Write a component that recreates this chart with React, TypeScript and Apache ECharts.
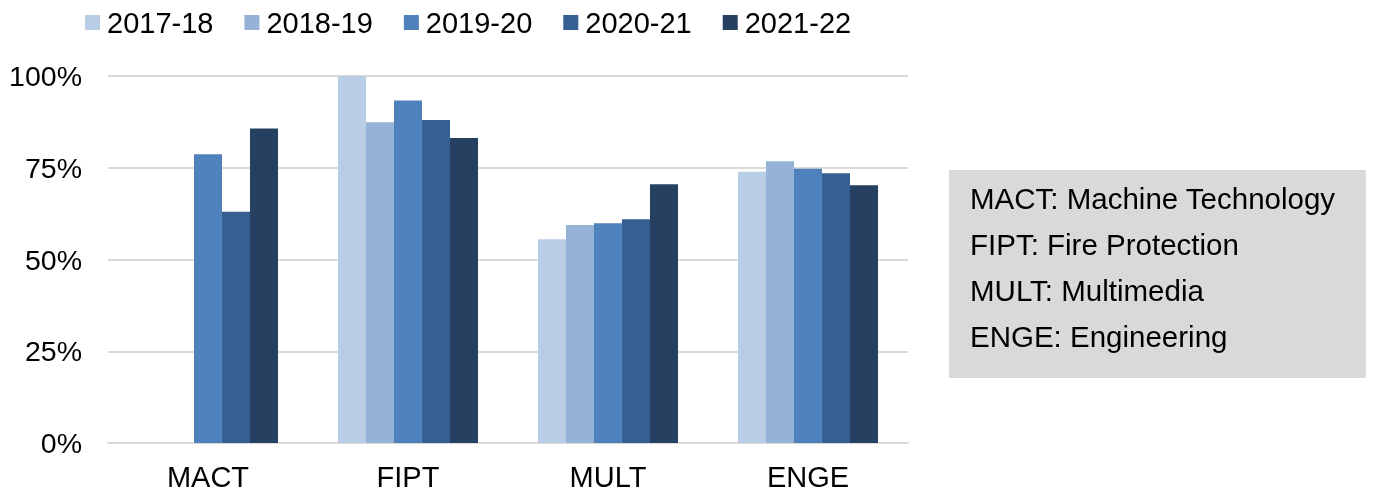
import React, { useEffect, useRef } from "react";
import * as echarts from "echarts";

const categories = ["MACT", "FIPT", "MULT", "ENGE"];
const seriesNames = ["2017-18", "2018-19", "2019-20", "2020-21", "2021-22"];
const v2017: (number | null)[] = [null, 1.0, 0.555, 0.739];
const v2018: (number | null)[] = [null, 0.874, 0.594, 0.768];
const v2019: (number | null)[] = [0.787, 0.933, 0.599, 0.747];
const v2020: (number | null)[] = [0.63, 0.88, 0.61, 0.735];
const v2021: (number | null)[] = [0.857, 0.831, 0.705, 0.702];
const colors = ["#B9CDE5", "#95B3D7", "#4F81BD", "#376092", "#254061"];
const noteLines = [
  "MACT: Machine Technology",
  "FIPT: Fire Protection",
  "MULT: Multimedia",
  "ENGE: Engineering",
];

const FONT = '"Liberation Sans", Arial, sans-serif';

export default function App() {
  const ref = useRef<HTMLDivElement>(null);
  useEffect(() => {
    if (!ref.current) return;
    const chart = echarts.init(ref.current, null, { renderer: "svg" });
    const values = [v2017, v2018, v2019, v2020, v2021];
    chart.setOption({
      animation: false,
      textStyle: { fontFamily: FONT },
      legend: {
        left: 85,
        top: 8,
        padding: 0,
        icon: "rect",
        itemWidth: 15,
        itemHeight: 15,
        itemGap: 31,
        data: seriesNames,
        textStyle: {
          fontSize: 29,
          color: "#000",
          fontFamily: FONT,
          padding: [0, 0, 0, 2],
        },
      },
      grid: { left: 108, right: 465, top: 76, bottom: 53, containLabel: false },
      xAxis: {
        type: "category",
        data: categories,
        axisLine: { lineStyle: { color: "#D9D9D9", width: 2 } },
        axisTick: { show: false },
        axisLabel: { fontSize: 29, color: "#000", margin: 19, fontFamily: FONT },
      },
      yAxis: {
        type: "value",
        min: 0,
        max: 1,
        interval: 0.25,
        axisLine: { show: false },
        axisTick: { show: false },
        splitLine: { lineStyle: { color: "#D9D9D9", width: 2 } },
        axisLabel: {
          fontSize: 28.5,
          color: "#000",
          margin: 26,
          fontFamily: FONT,
          formatter: (v: number) => Math.round(v * 100) + "%",
        },
      },
      series: seriesNames.map((name, i) => ({
        name,
        type: "bar",
        data: values[i],
        barGap: "0%",
        barCategoryGap: "30%",
        itemStyle: { color: colors[i] },
      })),
      graphic: [
        {
          type: "rect",
          shape: { x: 949, y: 170, width: 417, height: 208 },
          style: { fill: "#D9D9D9" },
          silent: true,
        },
        ...noteLines.map((t, i) => ({
          type: "text",
          x: 970,
          y: 198 + i * 46,
          style: {
            text: t,
            fontSize: 29.5,
            fontFamily: FONT,
            fill: "#000",
            verticalAlign: "middle",
          },
          silent: true,
        })),
      ],
    });
    return () => chart.dispose();
  }, []);
  return (
    <div
      ref={ref}
      style={{ position: "fixed", left: 0, top: 0, width: 1373, height: 496 }}
    />
  );
}
